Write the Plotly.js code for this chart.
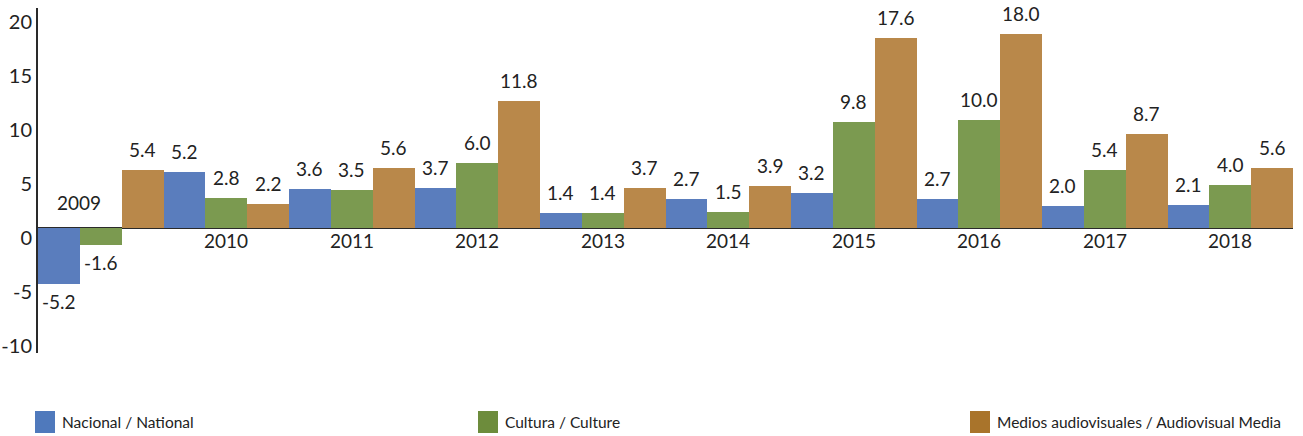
<!DOCTYPE html>
<html><head><meta charset="utf-8">
<script src="https://cdn.plot.ly/plotly-3.0.1.min.js"></script>
<style>html,body{margin:0;padding:0;background:#fff;}#chart{width:1303px;height:436px;}</style>
</head><body><div id="chart"></div>
<script>
const years = ["2009","2010","2011","2012","2013","2014","2015","2016","2017","2018"];
const nacional = [-5.2, 5.2, 3.6, 3.7, 1.4, 2.7, 3.2, 2.7, 2.0, 2.1];
const cultura = [-1.6, 2.8, 3.5, 6.0, 1.4, 1.5, 9.8, 10.0, 5.4, 4.0];
const medios = [5.4, 2.2, 5.6, 11.8, 3.7, 3.9, 17.6, 18.0, 8.7, 5.6];
const seriesNames = ["Nacional / National", "Cultura / Culture", "Medios audiovisuales / Audiovisual Media"];
const yTicks = [-10, -5, 0, 5, 10, 15, 20];

const FONT = 'Lato, "Open Sans", sans-serif';
const barColors = ["#5a7dbd", "#7b9a50", "#b9884a"];
const legendColors = ["#4f79bc", "#6d8c3c", "#a9742b"];
const seriesData = [nacional, cultura, medios];

const traces = seriesData.map((vals, i) => ({
  type: 'bar', x: years, y: vals, name: seriesNames[i],
  marker: {color: barColors[i], line: {width: 0}},
  showlegend: false, hoverinfo: 'x+y'
}));

const annotations = [];
// value labels above/below each bar
seriesData.forEach((vals, j) => {
  vals.forEach((v, i) => {
    annotations.push({x: i + (j - 1) / 3, y: v, xref: 'x', yref: 'y',
      text: v.toFixed(1), showarrow: false,
      yanchor: v < 0 ? 'top' : 'bottom', yshift: v < 0 ? -4 : 7,
      font: {family: FONT, size: 19, color: '#222'}});
  });
});
// year labels
years.forEach((yr, i) => {
  const neg = nacional[i] < 0;
  annotations.push({x: i, y: 0, xref: 'x', yref: 'y', text: yr, showarrow: false,
    yanchor: neg ? 'bottom' : 'top', yshift: neg ? 12 : 1, xshift: neg ? -22 : 0,
    font: {family: FONT, size: 19, color: '#222'}});
});

// custom legend
const W = 1303, H = 436, ml = 38, mr = 10, mt = 8, mb = 83;
const pw = W - ml - mr, ph = H - mt - mb;
const px2x = p => (p - ml) / pw;
const py2y = p => (H - mb - p) / ph;
const legendX = [35, 478, 970];
const shapes = [];
seriesNames.forEach((n, i) => {
  shapes.push({type: 'rect', xref: 'paper', yref: 'paper',
    x0: px2x(legendX[i]), x1: px2x(legendX[i] + 20), y0: py2y(433), y1: py2y(411),
    fillcolor: legendColors[i], line: {width: 0}});
  annotations.push({xref: 'paper', yref: 'paper', x: px2x(legendX[i] + 25), y: py2y(422),
    xanchor: 'left', yanchor: 'middle', text: n, showarrow: false,
    font: {family: FONT, size: 15.5, color: '#222'}});
});

const layout = {
  width: W, height: H,
  margin: {l: ml, r: mr, t: mt, b: mb},
  paper_bgcolor: '#fff', plot_bgcolor: '#fff',
  barmode: 'group', bargap: 0, bargroupgap: 0,
  showlegend: false,
  font: {family: FONT, color: '#222'},
  xaxis: {type: 'category', range: [-0.5, 9.5], showticklabels: false, ticks: '', showgrid: false, zeroline: false, showline: false},
  yaxis: {range: [-11.57, 20.37], tickvals: yTicks, ticktext: yTicks.map(String),
    showgrid: false, zeroline: true, zerolinecolor: '#2a2a2a', zerolinewidth: 2,
    showline: true, linecolor: '#2a2a2a', linewidth: 2, ticks: '',
    ticklabelshift: 10,
    tickfont: {family: FONT, size: 20, color: '#222'}},
  annotations: annotations, shapes: shapes
};

Plotly.newPlot('chart', traces, layout, {displayModeBar: false, staticPlot: true});
</script></body></html>
